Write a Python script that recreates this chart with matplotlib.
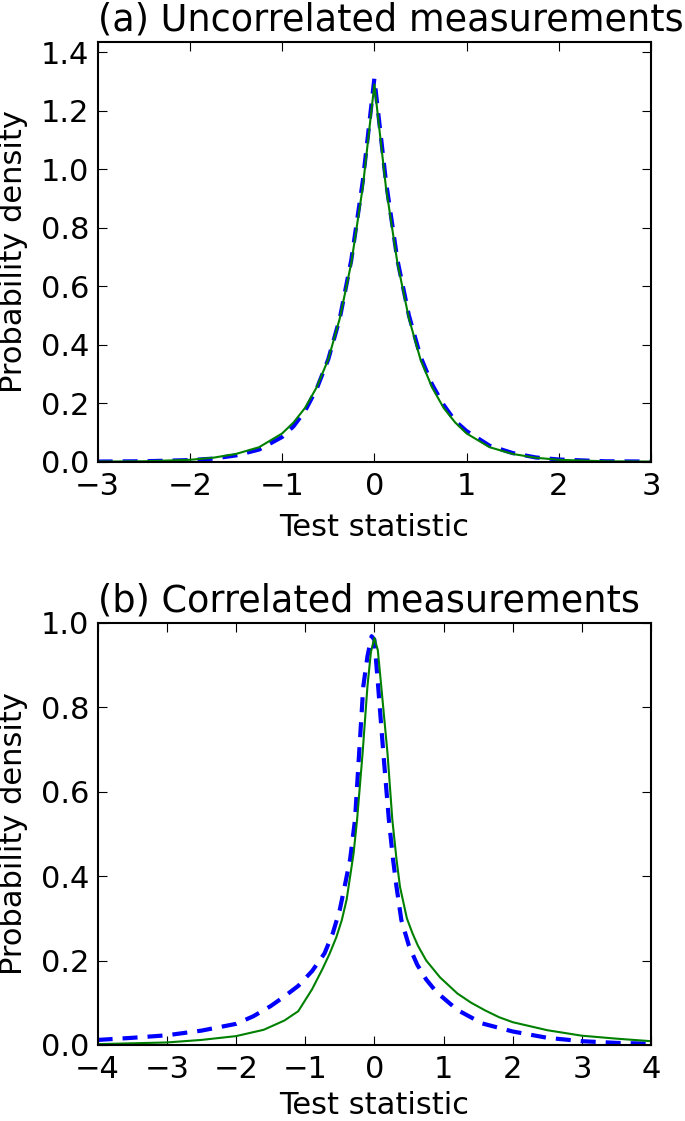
import matplotlib
matplotlib.use("Agg")
import matplotlib.pyplot as plt

# panel (a): uncorrelated measurements
xa = [-3.0, -2.5, -2.0, -1.75, -1.5, -1.25, -1.0, -0.875, -0.75, -0.625, -0.5, -0.375, -0.25, -0.125,
      0.0, 0.125, 0.25, 0.375, 0.5, 0.625, 0.75, 0.875, 1.0, 1.25, 1.5, 1.75, 2.0, 2.5, 3.0]
green_a = [0.001, 0.002, 0.007, 0.014, 0.027, 0.05, 0.097, 0.135, 0.185, 0.255, 0.35, 0.49, 0.68, 0.94,
           1.29, 0.94, 0.68, 0.49, 0.35, 0.255, 0.185, 0.135, 0.097, 0.05, 0.027, 0.014, 0.007, 0.002, 0.001]
blue_a = [0.001, 0.002, 0.006, 0.011, 0.022, 0.042, 0.085, 0.122, 0.175, 0.25, 0.35, 0.49, 0.69, 0.96,
          1.31, 0.96, 0.69, 0.50, 0.36, 0.265, 0.195, 0.14, 0.105, 0.055, 0.03, 0.015, 0.008, 0.002, 0.001]

# panel (b): correlated measurements
xb_green = [-4.0, -3.5, -3.0, -2.5, -2.0, -1.6, -1.3, -1.1, -0.9, -0.75, -0.65, -0.55, -0.47, -0.4, -0.3,
            -0.25, -0.17, -0.1, -0.05, 0.0, 0.05, 0.1, 0.19, 0.26, 0.32, 0.37, 0.47, 0.55, 0.63, 0.75,
            0.95, 1.2, 1.4, 1.6, 1.8, 2.0, 2.5, 3.0, 3.5, 4.0]
green_b = [0.002, 0.004, 0.006, 0.012, 0.021, 0.036, 0.058, 0.08, 0.132, 0.18, 0.215, 0.255, 0.296, 0.345, 0.454,
           0.533, 0.691, 0.849, 0.93, 0.964, 0.935, 0.849, 0.691, 0.533, 0.44, 0.375, 0.3, 0.265, 0.235, 0.2,
           0.16, 0.122, 0.1, 0.082, 0.066, 0.054, 0.035, 0.022, 0.015, 0.009]
xb_blue = [-4.0, -3.5, -3.0, -2.5, -2.0, -1.75, -1.5, -1.3, -1.1, -0.9, -0.72, -0.6, -0.5, -0.43, -0.35,
           -0.28, -0.22, -0.16, -0.1, -0.04, 0.0, 0.055, 0.13, 0.21, 0.27, 0.32, 0.39, 0.5, 0.62, 0.75,
           0.9, 1.2, 1.56, 2.0, 2.5, 3.0, 3.5, 4.0]
blue_b = [0.012, 0.017, 0.023, 0.034, 0.05, 0.068, 0.092, 0.115, 0.14, 0.175, 0.217, 0.265, 0.32, 0.375, 0.44,
          0.533, 0.691, 0.849, 0.92, 0.968, 0.96, 0.849, 0.691, 0.533, 0.44, 0.375, 0.296, 0.235, 0.19, 0.155,
          0.125, 0.083, 0.051, 0.032, 0.017, 0.009, 0.005, 0.003]

plt.rcParams['font.family'] = 'DejaVu Sans'
plt.rcParams['font.size'] = 22
plt.rcParams['xtick.direction'] = 'in'
plt.rcParams['ytick.direction'] = 'in'
plt.rcParams['xtick.top'] = True
plt.rcParams['ytick.right'] = True
plt.rcParams['xtick.major.size'] = 6.5
plt.rcParams['ytick.major.size'] = 6.5
plt.rcParams['xtick.major.pad'] = 7
plt.rcParams['ytick.major.pad'] = 6
plt.rcParams['axes.linewidth'] = 1.5
plt.rcParams['axes.titlepad'] = 8

fig = plt.figure(figsize=(6.85, 11.21), dpi=100)

ax1 = fig.add_axes([0.1425, 0.588, 0.808, 0.3745])
ax1.plot(xa, blue_a, color='b', lw=3, ls='--', dashes=(3.6, 2.4))
ax1.plot(xa, green_a, color='g', lw=1.5)
ax1.set_xlim(-3, 3)
ax1.set_ylim(0, 1.435)
ax1.set_yticks([0.0, 0.2, 0.4, 0.6, 0.8, 1.0, 1.2, 1.4])
ax1.set_xticks([-3, -2, -1, 0, 1, 2, 3])
ax1.set_xlabel('Test statistic', labelpad=9)
ax1.set_ylabel('Probability density', labelpad=9)
ax1.set_title('(a) Uncorrelated measurements', loc='left')

ax2 = fig.add_axes([0.1425, 0.0678, 0.808, 0.3767])
ax2.plot(xb_blue, blue_b, color='b', lw=3, ls='--', dashes=(3.6, 2.4))
ax2.plot(xb_green, green_b, color='g', lw=1.5)
ax2.set_xlim(-4, 4)
ax2.set_ylim(0, 1.0)
ax2.set_yticks([0.0, 0.2, 0.4, 0.6, 0.8, 1.0])
ax2.set_xticks([-4, -3, -2, -1, 0, 1, 2, 3, 4])
ax2.set_xlabel('Test statistic', labelpad=5)
ax2.set_ylabel('Probability density', labelpad=9)
ax2.set_title('(b) Correlated measurements', loc='left')

fig.savefig('out.png', dpi=100)
